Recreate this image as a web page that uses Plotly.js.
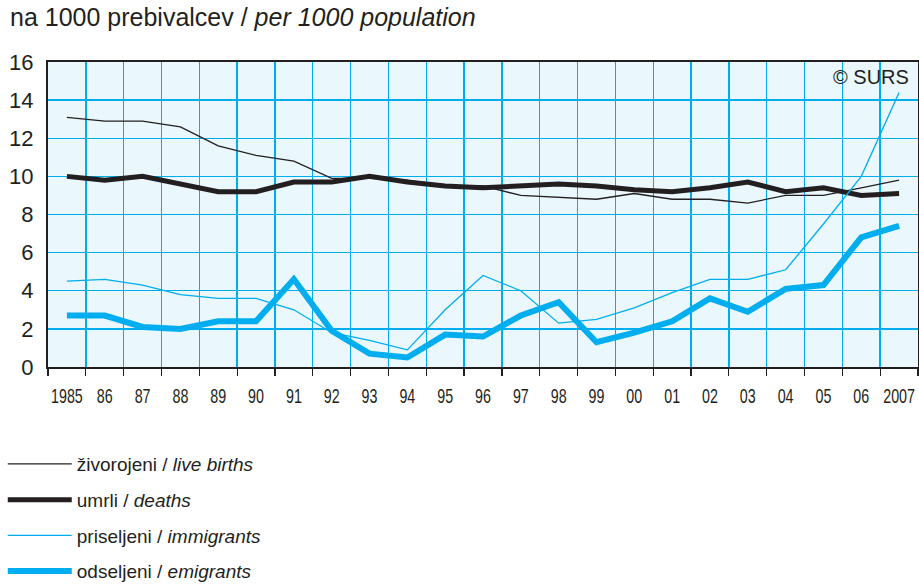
<!DOCTYPE html>
<html>
<head>
<meta charset="utf-8">
<script src="https://cdn.plot.ly/plotly-3.0.1.min.js"></script>
<style>
html,body{margin:0;padding:0;background:#fff;}
#chart{width:919px;height:584px;}
</style>
</head>
<body>
<div id="chart"></div>
<script>
const years = [1985,1986,1987,1988,1989,1990,1991,1992,1993,1994,1995,1996,1997,1998,1999,2000,2001,2002,2003,2004,2005,2006,2007];
const tickLabels = ["1985","86","87","88","89","90","91","92","93","94","95","96","97","98","99","00","01","02","03","04","05","06","2007"];
const liveBirths = [13.1,12.9,12.9,12.6,11.6,11.1,10.8,9.9,9.9,9.8,9.5,9.5,9.0,8.9,8.8,9.1,8.8,8.8,8.6,9.0,9.0,9.4,9.8];
const deaths     = [10.0,9.8,10.0,9.6,9.2,9.2,9.7,9.7,10.0,9.7,9.5,9.4,9.5,9.6,9.5,9.3,9.2,9.4,9.7,9.2,9.4,9.0,9.1];
const immigrants = [4.5,4.6,4.3,3.8,3.6,3.6,3.0,1.8,1.4,0.9,3.0,4.8,4.0,2.3,2.5,3.1,3.9,4.6,4.6,5.1,7.5,10.0,14.4];
const emigrants  = [2.7,2.7,2.1,2.0,2.4,2.4,4.6,1.9,0.7,0.5,1.7,1.6,2.7,3.4,1.3,1.8,2.4,3.6,2.9,4.1,4.3,6.8,7.4];
const seriesNames = ["živorojeni / <i>live births</i>","umrli / <i>deaths</i>","priseljeni / <i>immigrants</i>","odseljeni / <i>emigrants</i>"];

const BLUE = "#00aeef", BLACK = "#231f20";
const boundaries = years.map(y => y - 0.5).concat([years[years.length-1] + 0.5]);
const sans = "Liberation Sans, Arial, sans-serif";

const traces = [
  {x: years, y: liveBirths, name: seriesNames[0], mode: "lines", line: {color: BLACK, width: 1.3}, legendgroup: "a"},
  {x: years, y: deaths, name: seriesNames[1], mode: "lines", line: {color: BLACK, width: 5}, legendgroup: "b"},
  {x: years, y: immigrants, name: seriesNames[2], mode: "lines", line: {color: BLUE, width: 1.3}, legendgroup: "c"},
  {x: years, y: emigrants, name: seriesNames[3], mode: "lines", line: {color: BLUE, width: 6}, legendgroup: "d"}
];

const layout = {
  width: 919, height: 584,
  margin: {l: 48, r: 1, t: 62, b: 217, autoexpand: false},
  paper_bgcolor: "#ffffff",
  plot_bgcolor: "#eaf7fd",
  font: {family: sans, color: BLACK},
  title: {
    text: "na 1000 prebivalcev / <i>per 1000 population</i>",
    font: {size: 25, color: BLACK, family: sans},
    x: 10/919, xanchor: "left", xref: "container",
    y: 1 - 8/584, yanchor: "top", yref: "container"
  },
  xaxis: {
    range: [1984.5, 2007.5],
    tickmode: "array", tickvals: years, ticktext: tickLabels,
    ticks: "", showgrid: false, zeroline: false, tickangle: 0,
    tickfont: {family: sans, size: 21, color: BLACK},
    ticklabelstandoff: 9, ticklabeloverflow: "allow",
    showline: true, linecolor: BLACK, linewidth: 2, mirror: true,
    minor: {tickmode: "array", tickvals: boundaries, showgrid: true, gridcolor: BLUE, gridwidth: 1.4,
            ticks: "outside", ticklen: 7, tickwidth: 1.2, tickcolor: BLACK},
    fixedrange: true, automargin: false
  },
  yaxis: {
    range: [0, 16], tickmode: "linear", tick0: 0, dtick: 2,
    showgrid: true, gridcolor: BLUE, gridwidth: 1.4, zeroline: false,
    showline: true, linecolor: BLACK, linewidth: 2, mirror: true,
    ticks: "", tickfont: {size: 22, color: BLACK}, ticklabelstandoff: 8,
    fixedrange: true, automargin: false
  },
  showlegend: true,
  legend: {
    x: -0.052, xanchor: "left", y: -0.256, yanchor: "top",
    orientation: "v", bgcolor: "rgba(0,0,0,0)",
    font: {family: sans, size: 19, color: BLACK},
    itemwidth: 64, traceorder: "grouped", tracegroupgap: 8
  },
  annotations: [{
    text: "© SURS", xref: "paper", yref: "paper", x: 0.992, y: 0.95,
    xanchor: "right", yanchor: "middle", showarrow: false,
    font: {size: 20, color: BLACK}
  }]
};

function condenseTicks() {
  const s = 0.68;
  document.querySelectorAll("#chart .xtick text").forEach(t => {
    const base = t.getAttribute("data-base-transform") !== null ? t.getAttribute("data-base-transform") : (t.getAttribute("transform") || "");
    t.setAttribute("data-base-transform", base);
    const xa = parseFloat(t.getAttribute("x") || "0");
    t.setAttribute("transform", base + " translate(" + xa + ",0) scale(" + s + ",1) translate(" + (-xa) + ",0)");
  });
}

Plotly.newPlot("chart", traces, layout, {displayModeBar: false, staticPlot: true}).then(condenseTicks);
</script>
</body>
</html>
